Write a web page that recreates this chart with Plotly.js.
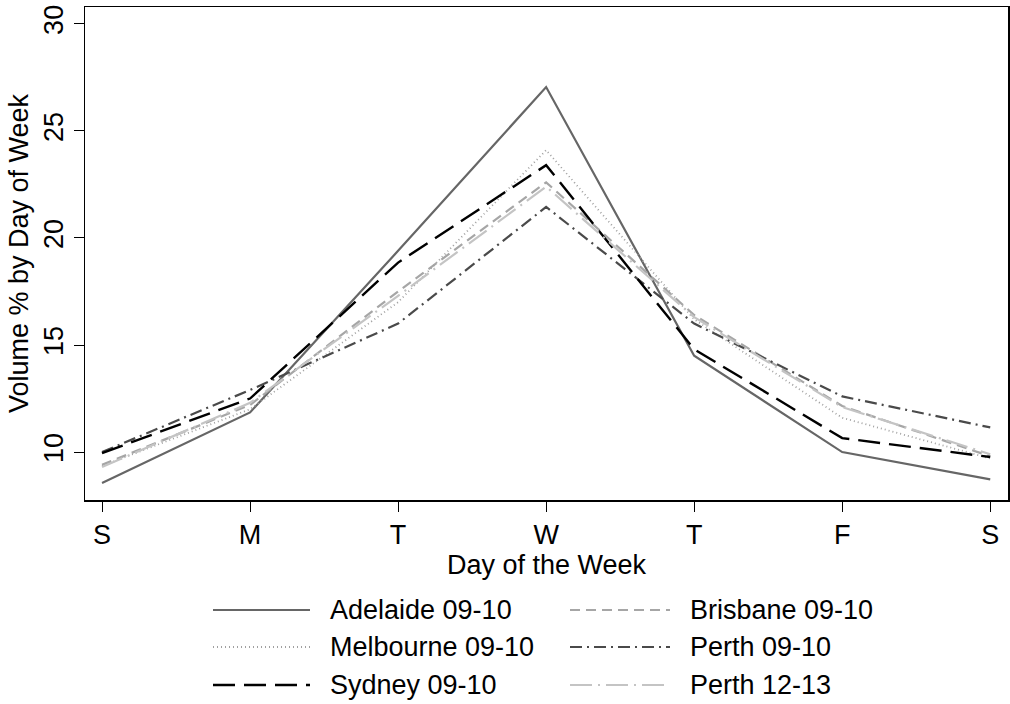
<!DOCTYPE html>
<html>
<head>
<meta charset="utf-8">
<script src="https://cdn.plot.ly/plotly-3.0.1.min.js"></script>
<style>html,body{margin:0;padding:0;background:#fff;}#chart{width:1010px;height:704px;}</style>
</head>
<body>
<div id="chart"></div>
<script>
const days = ["S", "M", "T", "W", "T", "F", "S"];
const dayIndex = [0, 1, 2, 3, 4, 5, 6];
const seriesNames = ["Adelaide 09-10", "Brisbane 09-10", "Melbourne 09-10", "Perth 09-10", "Sydney 09-10", "Perth 12-13"];
const adelaide   = [8.55, 11.85, 19.4, 27.05, 14.5, 10.0, 8.72];
const brisbane   = [9.4, 12.2, 17.5, 22.6, 16.4, 12.15, 9.8];
const melbourne  = [9.35, 12.0, 17.0, 24.1, 16.2, 11.6, 9.7];
const perth0910  = [10.0, 12.9, 16.0, 21.45, 16.0, 12.6, 11.15];
const sydney     = [9.95, 12.5, 18.85, 23.4, 14.8, 10.65, 9.77];
const perth1213  = [9.3, 12.3, 17.3, 22.4, 16.3, 12.1, 9.9];

const styles = [
  {color: "#666666", dash: "solid", width: 2.2},
  {color: "#a6a6a6", dash: "10px,6px", width: 2.2},
  {color: "#a0a0a0", dash: "1px,3px", width: 1.8},
  {color: "#4a4a4a", dash: "12px,5px,2px,5px", width: 2.2},
  {color: "#000000", dash: "22px,9px", width: 2.4},
  {color: "#c4c4c4", dash: "22px,6px,2px,6px", width: 2.2}
];
const seriesData = [adelaide, brisbane, melbourne, perth0910, sydney, perth1213];

const traces = seriesData.map((ys, i) => ({
  x: dayIndex, y: ys, type: "scatter", mode: "lines", name: seriesNames[i],
  line: {color: styles[i].color, dash: styles[i].dash, width: styles[i].width},
  showlegend: false, hoverinfo: "skip"
}));

// plot area pixel geometry
const L = 85, R = 1008, T = 7, B = 500;
const W = 1010, H = 704;
const FS = 27;
const px = v => (v - L) / (R - L);
const py = v => (B - v) / (B - T);

const shapes = [], annotations = [];
const rows = [610, 647, 685];
const cols = [{l0: 213, l1: 310, tx: 328}, {l0: 570, l1: 670, tx: 688}];
seriesNames.forEach((nm, i) => {
  const r = Math.floor(i / 2), c = i % 2;
  const yy = py(rows[r]);
  shapes.push({type: "line", xref: "paper", yref: "paper",
    x0: px(cols[c].l0), x1: px(cols[c].l1), y0: yy, y1: yy,
    line: {color: styles[i].color, dash: styles[i].dash, width: styles[i].width}});
  annotations.push({xref: "paper", yref: "paper", x: px(cols[c].tx), y: yy,
    xanchor: "left", yanchor: "middle", text: nm, showarrow: false,
    font: {size: FS, color: "#000"}});
});

const layout = {
  width: W, height: H,
  margin: {l: L, r: W - R, t: T, b: H - B},
  paper_bgcolor: "#fff", plot_bgcolor: "#fff",
  font: {family: "Liberation Sans, Arial, sans-serif", size: FS, color: "#000"},
  xaxis: {
    range: [-0.115, 6.12], tickvals: dayIndex, ticktext: days,
    showgrid: false, zeroline: false, showline: true, mirror: true,
    linecolor: "#000", linewidth: 1.5, ticks: "outside", ticklen: 10, tickcolor: "#000",
    tickfont: {size: FS},
    title: {text: "Day of the Week", font: {size: FS}, standoff: 0}
  },
  yaxis: {
    range: [7.76, 30.79], tickvals: [10, 15, 20, 25, 30],
    showgrid: false, zeroline: false, showline: true, mirror: true,
    linecolor: "#000", linewidth: 1.5, ticks: "outside", ticklen: 10, tickcolor: "#000",
    tickangle: -90, tickfont: {size: FS},
    title: {text: "Volume % by Day of Week", font: {size: FS}, standoff: 2}
  },
  shapes: shapes, annotations: annotations, showlegend: false
};

Plotly.newPlot("chart", traces, layout, {staticPlot: true, displayModeBar: false});
</script>
</body>
</html>
